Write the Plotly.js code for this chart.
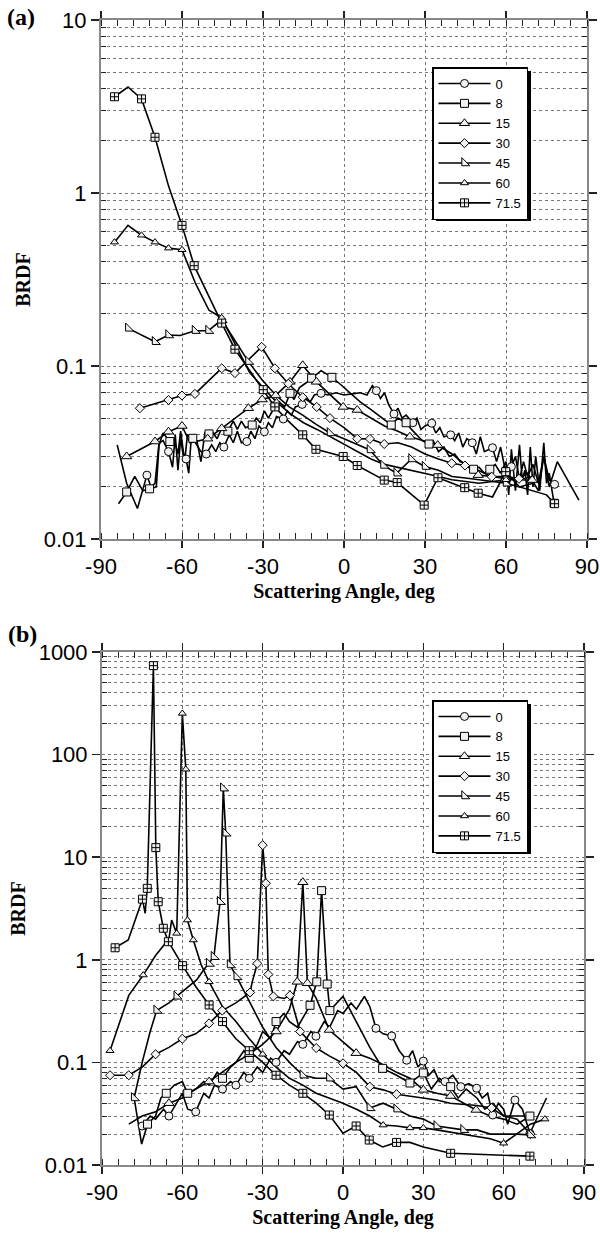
<!DOCTYPE html>
<html><head><meta charset="utf-8">
<script src="https://cdn.plot.ly/plotly-3.0.1.min.js"></script>
<style>html,body{margin:0;padding:0;background:#fff}</style>
</head><body><div id="chart" style="width:600px;height:1233px"></div>
<script>
// ---------- Series labels (incidence angle, deg) ----------
const seriesNames = ['0', '8', '15', '30', '45', '60', '71.5'];

// ---------- Panel (a) ----------
const aX0 = [-84,-80.5,-76.5,-73,-71.5,-70,-68.5,-67,-65,-63.5,-62.5,-61.5,-60.5,-59.5,-58.5,-57.5,-56.5,-55,-53,-51,-49,-47.5,-46,-44.5,-42.5,-41,-39.5,-38,-36,-34.5,-33,-31.5,-29.5,-28,-26.5,-25,-22.5,-21,-19.5,-18,-15.5,-14,-12.5,-11,-8.5,-6,-3,0,3,6,8.5,10.5,12,13.5,15,16.5,18.5,20,21.5,23,25.5,27,28.5,30,32.5,34,35.5,37,39.5,41,42.5,44,45.5,47.5,49,50.5,52,55,56.5,58,59.5,62,63.5,65,66.5,68,70,72,74,76,78];
const aY0 = [0.035,0.021,0.015,0.0234,0.02,0.021,0.036,0.037,0.032,0.026,0.04,0.025,0.038,0.03,0.029,0.024,0.04,0.036,0.032,0.031,0.035,0.032,0.036,0.034,0.04,0.036,0.042,0.036,0.0366,0.042,0.038,0.045,0.0417,0.047,0.044,0.051,0.0494,0.055,0.052,0.058,0.06,0.066,0.062,0.068,0.0695,0.068,0.07,0.068,0.069,0.07,0.068,0.077,0.072,0.065,0.07,0.06,0.0528,0.057,0.05,0.052,0.047,0.05,0.043,0.045,0.0467,0.041,0.044,0.039,0.040,0.037,0.041,0.034,0.038,0.036,0.031,0.039,0.032,0.0337,0.028,0.034,0.026,0.0262,0.03,0.022,0.028,0.023,0.027,0.021,0.03,0.022,0.0207];
const aM0 = [-73,-65,-58.5,-51,-44.5,-36,-29.5,-22.5,-15.5,-8.5,12,18.5,25.5,32.5,39.5,47.5,55,62,78];

const aX8 = [-83.5,-80.5,-77.5,-74.5,-72,-69.5,-68.5,-67,-64.5,-63,-61.5,-60.5,-59,-58,-56,-54.5,-53,-51.5,-50,-48.5,-47,-45.5,-43,-41,-39.5,-38,-36.5,-34,-32.5,-31,-29.5,-28,-25.5,-24,-22,-20,-18.5,-16.5,-14,-12,-10,-8.5,-6.5,-4.5,-2,2,6,10,14,17.5,20,23,25,27,29,31.5,33,35,37,39,41,43,45.5,48,50,52,54,56,58,60,61,62,63.5,65,66,67,68,69,70,71,72.5,74,75,76,77.8];
const aY8 = [0.016,0.0187,0.023,0.019,0.0195,0.02,0.035,0.041,0.0366,0.038,0.031,0.042,0.028,0.04,0.0382,0.037,0.028,0.041,0.0405,0.041,0.038,0.043,0.042,0.048,0.043,0.048,0.044,0.0456,0.05,0.047,0.055,0.05,0.0587,0.062,0.058,0.0695,0.064,0.075,0.08,0.085,0.09,0.094,0.09,0.086,0.08,0.07,0.062,0.056,0.05,0.0456,0.05,0.047,0.043,0.04,0.037,0.0354,0.037,0.032,0.034,0.03,0.031,0.028,0.027,0.0253,0.026,0.024,0.0253,0.027,0.024,0.028,0.018,0.033,0.019,0.035,0.022,0.025,0.018,0.034,0.02,0.03,0.019,0.036,0.021,0.024,0.0161];
const aM8 = [-80.5,-72,-64.5,-56,-50,-43,-34,-25.5,-20,-12,-4.5,17.5,23,31.5,48,54,77.8];

const aX15 = [-80.5,-70,-65,-60,-57,-50.5,-45.3,-40,-35.4,-30.3,-25.3,-20,-15.3,-10.2,-5,-0.3,4.9,10,15,20,24.4,29.5,34.7,40,44.7,49.7,55,59.9,65,69.7,72,74,76,79,87];
const aY15 = [0.030,0.0366,0.0417,0.045,0.036,0.038,0.0436,0.05,0.057,0.064,0.0676,0.081,0.101,0.081,0.068,0.058,0.0557,0.05,0.045,0.042,0.039,0.037,0.0349,0.031,0.027,0.0234,0.023,0.0223,0.022,0.0219,0.019,0.03,0.02,0.028,0.0168];
const aM15 = [-80.5,-70,-65,-60,-50.5,-45.3,-35.4,-30.3,-25.3,-20,-15.3,-10.2,-0.3,4.9,24.4,34.7,49.7,59.9,69.7];

const aX30 = [-75.6,-65,-60,-55.2,-45.3,-40.4,-30.5,-25.6,-20.6,-15.3,-10.1,-5.2,0,4.9,9.6,14.9,20,25,30,35,39.9,44.8,49.7,54.7,60,64.8,68,70];
const aY30 = [0.057,0.0636,0.0675,0.069,0.097,0.091,0.129,0.097,0.079,0.066,0.058,0.050,0.044,0.038,0.0379,0.0354,0.036,0.034,0.031,0.029,0.0274,0.0266,0.025,0.0229,0.023,0.0223,0.024,0.021];
const aM30 = [-75.6,-65,-60,-55.2,-45.3,-40.4,-30.5,-25.6,-20.6,-15.3,-10.1,-5.2,4.9,9.6,14.9,39.9,44.8,54.7,64.8];

const aX45 = [-79.9,-70,-65,-60.7,-55.2,-50.2,-45.3,-40.4,-35.4,-30.3,-25.3,-20.3,-15.3,-10.3,-5.2,0,4.9,9.6,14.6,19.5,25,30,35,40,45,50,55,60,65,70];
const aY45 = [0.165,0.138,0.151,0.15,0.16,0.16,0.185,0.14,0.106,0.083,0.068,0.058,0.052,0.046,0.041,0.038,0.035,0.0327,0.0266,0.024,0.029,0.0262,0.025,0.023,0.0225,0.022,0.0215,0.021,0.02,0.021];
const aM45 = [-79.9,-70,-65,-55.2,-50.2,-45.3,-35.4,-5.2,9.6,14.6,19.5,25,30,60];

const aX60 = [-85,-80,-75,-70,-65,-60,-55,-50,-45.3,-40,-35,-30,-25,-20,-15,-10,-5,0,5,10,15,20,25,30,35,40,50,60,65,70];
const aY60 = [0.52,0.65,0.57,0.52,0.48,0.47,0.3,0.21,0.19,0.13,0.092,0.075,0.062,0.053,0.047,0.043,0.039,0.035,0.032,0.029,0.027,0.026,0.025,0.024,0.023,0.022,0.021,0.022,0.022,0.023];
const aM60 = [-85,-75,-70,-65,-60,-45.3,-25,60];

const aX71 = [-85,-80,-75,-70,-65,-60,-55.5,-50,-45.3,-40.4,-35,-29.9,-25.6,-20.6,-15.3,-10.4,-0.3,4.9,14.9,19.7,25,29.7,34.8,44.7,49.7,55,59.9,65,70,75,78];
const aY71 = [3.6,4.1,3.5,2.1,1.1,0.65,0.38,0.25,0.177,0.125,0.095,0.073,0.058,0.048,0.040,0.033,0.030,0.0266,0.0219,0.0212,0.018,0.0157,0.0226,0.0198,0.0184,0.0175,0.0245,0.02,0.019,0.018,0.016];
const aM71 = [-85,-75,-70,-60,-55.5,-45.3,-40.4,-29.9,-25.6,-15.3,-10.4,-0.3,4.9,14.9,19.7,29.7,34.8,44.7,49.7,59.9,78];

// ---------- Panel (b) ----------
const bX0 = [-75,-72,-70,-67,-65,-62,-60,-58,-55,-52,-50,-48,-45,-42,-40,-37,-35,-32,-30,-27,-25,-22,-20,-17,-15,-12,-10.1,-7,-5,-2,0,3,5,8,10,12.3,15,18.2,21,23.8,26,28,30,32,34,36,38.1,41,44,47,49.9,52,54,55.9,58,60,61.5,64.2,67,69.8,76];
const bY0 = [0.024,0.03,0.028,0.035,0.03,0.04,0.05,0.035,0.033,0.05,0.045,0.06,0.055,0.065,0.06,0.08,0.07,0.09,0.08,0.11,0.1,0.13,0.12,0.16,0.15,0.2,0.18,0.25,0.22,0.32,0.3,0.38,0.33,0.44,0.35,0.215,0.19,0.181,0.13,0.105,0.13,0.09,0.103,0.075,0.085,0.065,0.065,0.075,0.058,0.062,0.056,0.045,0.05,0.0307,0.04,0.035,0.025,0.043,0.035,0.0204,0.045];
const bM0 = [-75,-65,-55,-45,-40,-35,-25,-15,-10.1,12.3,18.2,23.8,30,38.1,44,49.9,55.9,64.2,69.8];

const bX8 = [-78,-75.2,-73,-70,-68,-66,-63,-60,-58,-55,-52,-50,-47,-45,-42,-40,-37,-35,-32,-30,-27,-25,-22,-20,-17,-14,-12.3,-9.8,-8,-5.9,-4.9,0,5,10,14.8,20,25,30,33,36,40.2,43,46,50,53,56,60,65,69.8];
const bY8 = [0.045,0.016,0.025,0.03,0.045,0.05,0.06,0.065,0.05,0.055,0.065,0.06,0.08,0.07,0.09,0.1,0.13,0.11,0.15,0.2,0.17,0.25,0.3,0.25,0.22,0.3,0.36,0.61,4.72,0.58,0.32,0.44,0.25,0.14,0.0875,0.075,0.063,0.079,0.055,0.07,0.058,0.045,0.055,0.045,0.035,0.04,0.03,0.03,0.030];
const bM8 = [-73,-66,-58,-45,-35,-25,-12.3,-9.8,-8,-5.9,-4.9,14.8,25,30,40.2,69.8];

const bX15 = [-80,-75,-70,-65,-60,-55,-50,-45,-40,-35,-30,-25,-20,-17.1,-15,-13.3,-10,-5.1,0,4.9,10,15,20,25,30,35,40.2,45,49.7,55,60,65,70];
const bY15 = [0.025,0.03,0.033,0.04,0.045,0.055,0.065,0.08,0.1,0.12,0.15,0.2,0.33,0.61,5.7,0.59,0.42,0.207,0.16,0.123,0.11,0.095,0.08,0.07,0.054,0.05,0.047,0.04,0.0344,0.03,0.028,0.025,0.03];
const bM15 = [-65,-50,-35,-25,-17.1,-15,-13.3,-5.1,4.9,30,40.2,49.7];

const bX30 = [-87,-80,-75,-70,-65,-60,-55,-50,-45.1,-40,-34.7,-33.9,-32,-30,-28.8,-27.9,-26,-22,-19.8,-16,-10,-5,0,5,10,15,20,25,30,35,40,45,50,55.5,60,65,70];
const bY30 = [0.075,0.075,0.09,0.12,0.14,0.17,0.19,0.24,0.32,0.38,0.48,0.61,0.92,13.1,5.57,0.72,0.44,0.42,0.45,0.2,0.138,0.115,0.098,0.08,0.058,0.054,0.049,0.047,0.045,0.043,0.04,0.039,0.038,0.036,0.03,0.028,0.02];
const bM30 = [-87,-80,-70,-60,-50,-45.1,-34.7,-32,-30,-28.8,-27.9,-26,-19.8,-16,-10,0,10,20,55.5,70];

const bX45 = [-78,-75,-72,-69.6,-65,-62.1,-58,-54.6,-52,-50,-48.2,-45.9,-44.7,-43.8,-42.2,-39.7,-35,-30,-25,-20,-15,-10,-5.1,0,4.9,10,15,20,25,30,35,40,45,50,55,60,65,70];
const bY45 = [0.045,0.1,0.2,0.32,0.38,0.44,0.55,0.64,0.8,0.92,1.07,3.68,47,17.1,0.89,0.68,0.4,0.22,0.14,0.1,0.075,0.07,0.07,0.055,0.058,0.036,0.04,0.035,0.03,0.028,0.024,0.023,0.022,0.022,0.02,0.02,0.02,0.0196];
const bM45 = [-78,-69.6,-62.1,-50,-48.2,-45.9,-44.7,-43.8,-42.2,-39.7,-15,-5.1,10,20,35,45,70];

const bX60 = [-87,-80,-74.6,-70,-65,-64,-62.1,-60,-58.7,-58.1,-55.9,-53,-50,-45,-40,-35,-30,-25,-20,-15,-10,-5,0,5,10,15,20,25,30,35,40,45,50,55,60,65,70,75.4];
const bY60 = [0.13,0.45,0.71,1.1,1.6,2.44,1.81,252,72,2.44,1.56,0.9,0.61,0.35,0.25,0.17,0.12,0.09,0.07,0.06,0.05,0.045,0.04,0.035,0.03,0.0245,0.024,0.023,0.023,0.022,0.021,0.02,0.019,0.018,0.0163,0.02,0.025,0.028];
const bM60 = [-87,-74.6,-62.1,-60,-58.7,-58.1,-55.9,-50,-30,15,25,30,60,75.4];

const bX71 = [-85.1,-80.2,-74.9,-73.9,-73.1,-70.8,-69.9,-69,-67.1,-65.2,-59.9,-55,-50,-45,-40,-35,-30,-25,-20,-15,-10,-5.1,0,4.9,9.8,14.8,20,25,30,40.2,50,60,69.8];
const bY71 = [1.31,1.56,3.9,2.84,4.97,736,12.4,3.68,2.03,1.5,0.877,0.55,0.363,0.25,0.17,0.13,0.1,0.075,0.06,0.05,0.04,0.0307,0.0204,0.024,0.0175,0.015,0.0166,0.0166,0.015,0.013,0.0128,0.0125,0.0122];
const bM71 = [-85.1,-74.9,-73.1,-70.8,-69.9,-69,-67.1,-65.2,-59.9,-50,-45,-35,-25,-15,-5.1,4.9,9.8,20,40.2,69.8];

// ---------- Axis tick labels ----------
const xTicks = [-90, -60, -30, 0, 30, 60, 90];
const xTickText = ['-90', '-60', '-30', '0', '30', '60', '90'];
const aYTicks = [0.01, 0.1, 1, 10];
const aYTickText = ['0.01', '0.1', '1', '10'];
const bYTicks = [0.01, 0.1, 1, 10, 100, 1000];
const bYTickText = ['0.01', '0.1', '1', '10', '100', '1000'];

// ---------- Styling ----------
const symbols = ['circle', 'square', 'triangle-up', 'diamond', 'triangle-sw', 'triangle-up', 'square-cross'];
const msizes = [8, 8, 9, 7, 9, 7, 8];
const LINE = {color: '#000', width: 1.6};

function markerStyle(i) {
  return {symbol: symbols[i], size: msizes[i], color: '#f0f0f0', line: {color: '#000', width: 1}};
}

function buildPanel(xs, ys, ms, xa, ya, legendId) {
  const lines = [], marks = [], legs = [];
  for (let i = 0; i < xs.length; i++) {
    lines.push({x: xs[i], y: ys[i], xaxis: xa, yaxis: ya, mode: 'lines', line: LINE,
                showlegend: false, hoverinfo: 'skip'});
    const mx = [], my = [];
    ms[i].forEach(v => { const k = xs[i].indexOf(v); if (k >= 0) { mx.push(v); my.push(ys[i][k]); } });
    marks.push({x: mx, y: my, xaxis: xa, yaxis: ya, mode: 'markers', marker: markerStyle(i),
                showlegend: false, cliponaxis: true});
    legs.push({x: [null], y: [null], xaxis: xa, yaxis: ya, mode: 'lines+markers', name: seriesNames[i],
               legend: legendId, line: LINE, marker: markerStyle(i), showlegend: true});
  }
  return lines.concat(marks, legs);
}

const traces = [].concat(
  buildPanel([aX0,aX8,aX15,aX30,aX45,aX60,aX71], [aY0,aY8,aY15,aY30,aY45,aY60,aY71],
             [aM0,aM8,aM15,aM30,aM45,aM60,aM71], 'x', 'y', 'legend'),
  buildPanel([bX0,bX8,bX15,bX30,bX45,bX60,bX71], [bY0,bY8,bY15,bY30,bY45,bY60,bY71],
             [bM0,bM8,bM15,bM30,bM45,bM60,bM71], 'x2', 'y2', 'legend2')
);

function minorLogVals(lo, hi) {
  const v = [];
  for (let e = lo; e < hi; e++) for (let d = 2; d <= 9; d++) v.push(d * Math.pow(10, e));
  return v;
}

const W = 600, H = 1233;
const px = v => v / W, py = v => 1 - v / H;

const TICKFONT = {family: 'Liberation Sans, Arial, sans-serif', size: 22, color: '#000'};
const TITLEFONT = {family: 'Liberation Serif, Times New Roman, serif', size: 20, color: '#000'};

function xAxis(domain, anchor) {
  return {
    domain: domain, anchor: anchor, range: [-90, 90], tickmode: 'array', tickvals: xTicks, ticktext: xTickText,
    showgrid: true, gridcolor: '#777', griddash: 'dot', gridwidth: 1,
    showline: true, linecolor: '#888', linewidth: 2, mirror: 'ticks',
    ticks: 'outside', ticklen: 7, tickwidth: 1.5, tickcolor: '#222',
    minor: {tickmode: 'linear', tick0: 0, dtick: 6, ticks: 'inside', ticklen: 6, tickwidth: 1, tickcolor: '#222', showgrid: false},
    zeroline: false, tickfont: TICKFONT, automargin: false,
    title: {text: '<b>Scattering Angle, deg</b>', font: TITLEFONT, standoff: 6}
  };
}
function yAxis(domain, anchor, range, tv, tt) {
  return {
    domain: domain, anchor: anchor, type: 'log', range: range, tickmode: 'array', tickvals: tv, ticktext: tt,
    showgrid: true, gridcolor: '#777', griddash: 'dot', gridwidth: 1,
    showline: true, linecolor: '#888', linewidth: 2, mirror: 'ticks',
    ticks: 'outside', ticklen: 8, tickwidth: 1.5, tickcolor: '#222',
    minor: {tickmode: 'array', tickvals: minorLogVals(range[0], range[1]), ticks: 'inside', ticklen: 5, tickwidth: 1,
            tickcolor: '#222', showgrid: true, gridcolor: '#777', griddash: 'dot', gridwidth: 1},
    zeroline: false, tickfont: TICKFONT, automargin: false,
    title: {text: '<b>BRDF</b>', font: TITLEFONT, standoff: 8}
  };
}

const legendCommon = {
  bgcolor: '#fff', bordercolor: '#000', borderwidth: 1.5,
  font: {family: 'Liberation Sans, Arial, sans-serif', size: 13, color: '#000'},
  xanchor: 'left', yanchor: 'top', itemwidth: 52, tracegroupgap: 0, itemclick: false
};

// legend drop shadows (offset box behind each legend)
function shadow(x0, y0, x1, y1) {
  return {type: 'rect', xref: 'paper', yref: 'paper', x0: px(x0), x1: px(x1), y0: py(y0), y1: py(y1),
          fillcolor: '#000', line: {width: 0}, layer: 'above'};
}

const layout = {
  width: W, height: H, margin: {l: 0, r: 0, t: 0, b: 0},
  paper_bgcolor: '#fff', plot_bgcolor: '#fff', showlegend: true,
  xaxis: xAxis([px(101), px(587)], 'y'),
  yaxis: yAxis([py(539), py(20)], 'x', [-2, 1], aYTicks, aYTickText),
  xaxis2: xAxis([px(102), px(584)], 'y2'),
  yaxis2: yAxis([py(1165), py(652)], 'x2', [-2, 3], bYTicks, bYTickText),
  legend: Object.assign({x: px(432), y: py(67)}, legendCommon),
  legend2: Object.assign({x: px(432), y: py(700)}, legendCommon),
  shapes: [shadow(436, 71, 531, 221), shadow(436, 704, 531, 854)],
  annotations: [
    {text: '<b>(a)</b>', xref: 'paper', yref: 'paper', x: px(5), y: py(17), xanchor: 'left', yanchor: 'middle',
     showarrow: false, font: {family: 'Liberation Serif, Times New Roman, serif', size: 24, color: '#000'}},
    {text: '<b>(b)</b>', xref: 'paper', yref: 'paper', x: px(6), y: py(634), xanchor: 'left', yanchor: 'middle',
     showarrow: false, font: {family: 'Liberation Serif, Times New Roman, serif', size: 24, color: '#000'}}
  ]
};

Plotly.newPlot('chart', traces, layout, {staticPlot: true, displayModeBar: false});
</script></body></html>
